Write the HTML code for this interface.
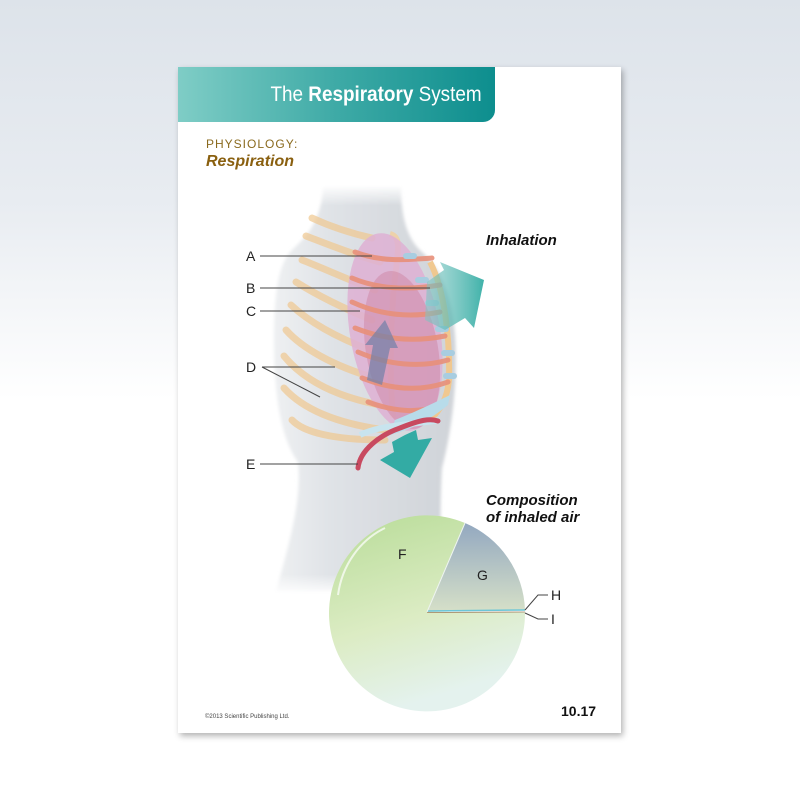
<!DOCTYPE html>
<html><head><meta charset="utf-8"><style>
html,body{margin:0;padding:0}
body{width:800px;height:800px;overflow:hidden;background:linear-gradient(#dde3ea 0%,#e8ecf1 25%,#fff 50%,#fff 100%);font-family:"Liberation Sans",sans-serif;position:relative}
.card{position:absolute;left:178px;top:67px;width:443px;height:666px;background:#fff;box-shadow:2px 3px 6px rgba(0,0,0,.3)}
.hdr{position:absolute;left:178px;top:67px;width:317px;height:55px;border-bottom-right-radius:12px;background:linear-gradient(90deg,#7fcdc6,#3eaaa6 50%,#0d8e8e)}
.hdr span{position:absolute;right:13px;top:0;line-height:55px;color:#fff;font-size:21px;transform:scaleX(0.9);transform-origin:right center;white-space:nowrap}
.t{position:absolute;white-space:nowrap}
</style></head><body>
<div class="card"></div>
<div class="hdr"><span>The <b>Respiratory</b> System</span></div>
<div class="t" style="left:206px;top:137px;font-size:12px;color:#8a6a1e;letter-spacing:1px">PHYSIOLOGY:</div>
<div class="t" style="left:206px;top:153px;font-size:16px;color:#8a6010;font-weight:bold;font-style:italic">Respiration</div>
<svg width="800" height="800" style="position:absolute;left:0;top:0">
<defs>
<linearGradient id="bd" x1="0" x2="1"><stop offset="0" stop-color="#eef0f2"/><stop offset="0.3" stop-color="#e0e3e7"/><stop offset="1" stop-color="#cfd3d8"/></linearGradient>
<linearGradient id="fade" x1="0" y1="0" x2="0" y2="1"><stop offset="0" stop-color="#fff" stop-opacity="0"/><stop offset="0.05" stop-color="#fff" stop-opacity="1"/><stop offset="0.95" stop-color="#fff" stop-opacity="1"/><stop offset="1" stop-color="#fff" stop-opacity="0"/></linearGradient>
<mask id="m"><rect x="200" y="185" width="300" height="410" fill="url(#fade)"/></mask>
<filter id="bl"><feGaussianBlur stdDeviation="1.5"/></filter>
<linearGradient id="pf" x1="0" y1="0" x2="0.3" y2="1"><stop offset="0" stop-color="#b8dc98"/><stop offset="0.6" stop-color="#dcecc4"/><stop offset="1" stop-color="#e4f2ee"/></linearGradient>
<linearGradient id="pg" x1="0" y1="0" x2="0" y2="1"><stop offset="0" stop-color="#93a8c0"/><stop offset="1" stop-color="#d6e0c8"/></linearGradient>
<linearGradient id="ar" x1="0" x2="1"><stop offset="0" stop-color="#7fc6c2" stop-opacity=".6"/><stop offset="1" stop-color="#2aa9a0"/></linearGradient>
</defs>
<path mask="url(#m)" filter="url(#bl)" d="M323 185 C322 222 305 238 292 250 C278 264 274 295 274 340 C274 400 282 440 298 462 C302 500 290 540 276 592 L442 592 C440 550 440 500 442 468 C452 430 458 380 455 335 C452 295 440 268 422 252 C406 238 401 215 401 185 Z" fill="url(#bd)"/>
<g stroke="#f0c890" stroke-width="7" fill="none" stroke-linecap="round" opacity=".7">
<path d="M372 238 C345 232 325 224 312 218"/>
<path d="M380 262 C345 252 322 242 306 236"/>
<path d="M375 290 C342 277 318 266 302 260"/>
<path d="M372 320 C338 306 312 292 296 282"/>
<path d="M370 350 C333 336 307 320 291 305"/>
<path d="M375 378 C333 366 302 348 286 330"/>
<path d="M380 405 C333 396 302 378 284 356"/>
<path d="M385 430 C333 423 302 408 284 388"/>
<path d="M385 440 C333 440 303 432 292 420"/>
</g>
<path d="M393 418 C390 380 390 340 393 300 C395 260 405 238 390 234" stroke="#f2cf9c" stroke-width="6" fill="none" opacity=".8"/>
<path d="M430 262 C445 290 450 340 449 380 C447 400 440 410 430 420" stroke="#f0c890" stroke-width="6" fill="none"/>
<ellipse cx="395" cy="332" rx="45" ry="100" transform="rotate(-10 395 332)" fill="#deb0d4" opacity=".85"/>
<ellipse cx="402" cy="350" rx="36" ry="80" transform="rotate(-10 402 350)" fill="#c87090" opacity=".35"/>
<g stroke="#e8907a" stroke-width="5" fill="none" stroke-linecap="round" opacity=".9">
<path d="M355 252 C380 262 405 260 432 258"/>
<path d="M352 278 C380 290 410 290 440 285"/>
<path d="M352 302 C380 315 410 318 440 312"/>
<path d="M355 328 C385 340 415 342 445 336"/>
<path d="M358 352 C388 365 420 368 448 360"/>
<path d="M362 378 C392 390 420 392 448 382"/>
<path d="M368 402 C395 412 420 414 445 404"/>
</g>
<g fill="#a8cde0"><rect x="403" y="253" width="14" height="6" rx="3"/><rect x="415" y="277" width="14" height="6" rx="3"/><rect x="425" y="300" width="14" height="6" rx="3"/><rect x="435" y="326" width="14" height="6" rx="3"/><rect x="441" y="350" width="14" height="6" rx="3"/><rect x="443" y="373" width="14" height="6" rx="3"/></g>
<path d="M395 420 C420 410 440 400 450 395 L448 405 C430 420 410 430 390 435 Z" fill="#b8dcea"/>
<path d="M360 435 C380 425 410 425 440 420" stroke="#c8e4ee" stroke-width="6" fill="none"/>
<path d="M367 380 L373 345 L365 345 L385 320 L398 348 L390 348 L382 385 Z" fill="#7080a8" opacity=".7"/>
<path d="M427 282 L444 270 L440 262 L484 280 L474 328 L465 318 L445 330 L425 320 Z" fill="url(#ar)" opacity=".9"/>
<path d="M405 435 L416 430 L418 440 L432 438 L410 478 L380 460 L394 452 L392 442 Z" fill="#33aba4"/>
<path d="M358 468 C360 450 380 435 400 428 C420 420 430 418 438 421" stroke="#c84a60" stroke-width="5" fill="none" stroke-linecap="round"/>
<g stroke="#444" stroke-width="1" fill="none">
<line x1="260" y1="256" x2="372" y2="256"/>
<line x1="260" y1="288" x2="430" y2="288"/>
<line x1="260" y1="311" x2="360" y2="311"/>
<line x1="262" y1="367" x2="335" y2="367"/>
<line x1="262" y1="367" x2="320" y2="397"/>
<line x1="260" y1="464" x2="358" y2="464"/>
</g>
<path d="M427 612 L465 523 A98 98 0 0 1 525 610 Z" fill="url(#pg)"/>
<path d="M427 612 L525 612 A98 98 0 1 1 465 523 Z" fill="url(#pf)"/>
<line x1="427" y1="611" x2="525" y2="610" stroke="#6cc6d8" stroke-width="1.5"/>
<line x1="427" y1="612.5" x2="525" y2="612" stroke="#a08060" stroke-width="0.8"/>
<path d="M427 612 L465 523" stroke="#eef4f0" stroke-width="1"/>
<path d="M338 595 C342 565 360 540 385 528" stroke="#fff" stroke-width="2" fill="none" opacity=".7"/>
<g stroke="#444" stroke-width="1" fill="none"><path d="M525 610 L538 595 L548 595"/><path d="M525 613 L538 619 L548 619"/></g>
</svg>
<div class="t" style="left:246px;top:248px;font-size:14px;color:#222">A</div>
<div class="t" style="left:246px;top:280px;font-size:14px;color:#222">B</div>
<div class="t" style="left:246px;top:303px;font-size:14px;color:#222">C</div>
<div class="t" style="left:246px;top:359px;font-size:14px;color:#222">D</div>
<div class="t" style="left:246px;top:456px;font-size:14px;color:#222">E</div>
<div class="t" style="left:398px;top:546px;font-size:14px;color:#222">F</div>
<div class="t" style="left:477px;top:567px;font-size:14px;color:#222">G</div>
<div class="t" style="left:551px;top:587px;font-size:14px;color:#222">H</div>
<div class="t" style="left:551px;top:611px;font-size:14px;color:#222">I</div>
<div class="t" style="left:486px;top:232px;font-size:15px;font-weight:bold;font-style:italic;color:#111">Inhalation</div>
<div class="t" style="left:486px;top:492px;font-size:15px;font-weight:bold;font-style:italic;color:#111;line-height:17px">Composition<br>of inhaled air</div>
<div class="t" style="left:561px;top:703px;font-size:14px;font-weight:bold;color:#111">10.17</div>
<div class="t" style="left:205px;top:714px;font-size:6px;color:#444">©2013 Scientific Publishing Ltd.</div>
</body></html>
